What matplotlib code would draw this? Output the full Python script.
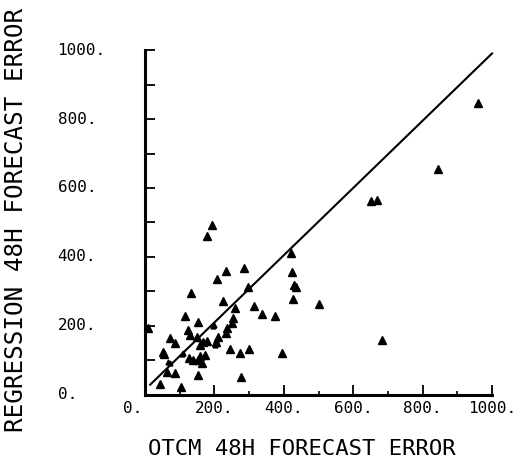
import numpy as np
from matplotlib import pyplot as plt

# OTCM vs regression 48h forecast errors
otcm = [192, 178, 421, 425, 430, 435, 427, 500, 650, 668, 845, 960, 682, 394,
        286, 233, 208, 298, 133, 226, 314, 336, 375, 259, 254, 250, 235, 233,
        115, 152, 125, 130, 149, 72, 86, 168, 178, 158, 53, 56, 128, 158, 173,
        245, 274, 300, 154, 163, 62, 86, 152, 278, 43, 104, 10, 139, 211, 206]
regr = [493, 461, 412, 356, 320, 312, 279, 264, 563, 565, 655, 846, 159, 121,
        369, 359, 336, 314, 297, 272, 259, 236, 229, 253, 222, 208, 193, 179,
        230, 212, 188, 174, 169, 164, 150, 155, 157, 145, 126, 120, 106, 113, 116,
        132, 123, 133, 100, 92, 68, 63, 58, 53, 32, 24, 195, 101, 167, 155]

# small marks in the dense cluster
otcm_small = [195, 206, 203, 106, 72, 199, 110, 67]
regr_small = [200, 159, 145, 119, 92, 203, 123, 97]

fit_x = [15, 1000]
fit_y = [30, 990]

xticks = [0, 200, 400, 600, 800, 1000]
yticks = [0, 200, 400, 600, 800, 1000]
tick_labels = ['0.', '200.', '400.', '600.', '800.', '1000.']

plt.rcParams['font.family'] = 'DejaVu Sans Mono'

fig = plt.figure(figsize=(5.22, 4.70), dpi=100)
ax = fig.add_axes([0.2778, 0.1596, 0.6648, 0.734])

ax.plot(fit_x, fit_y, color='black', lw=1.5, clip_on=False)
ax.plot(otcm, regr, '^', color='black', ms=6, clip_on=False)
ax.plot(otcm_small, regr_small, '^', color='black', ms=3.5, clip_on=False)

ax.set_xlim(0, 1000)
ax.set_ylim(0, 1000)
for s in ['top', 'right']:
    ax.spines[s].set_visible(False)
for s in ['left', 'bottom']:
    ax.spines[s].set_linewidth(2.2)

ax.set_xticks(xticks)
ax.set_xticks(np.arange(100, 1000, 200), minor=True)
ax.set_yticks(np.arange(0, 1001, 100))
ax.tick_params(axis='both', which='major', direction='in', length=7, width=1.3,
               labelbottom=False, labelleft=False)
ax.tick_params(axis='x', which='minor', direction='in', length=3, width=1.2)

for i, v in enumerate(xticks):
    dx = -9 if v == 0 else 0
    ax.annotate(tick_labels[i], (v, 0), xytext=(dx, -10), textcoords='offset points',
                ha='center', va='center', fontsize=11.5)
for i, v in enumerate(yticks):
    ax.annotate(tick_labels[i], (0, v), xytext=(-63, 0), textcoords='offset points',
                ha='left', va='center', fontsize=11.5)

fig.text(0.579, 0.045, 'OTCM 48H FORECAST ERROR', ha='center', va='center', fontsize=16)
fig.text(0.03, 0.532, 'REGRESSION 48H FORECAST ERROR', ha='center', va='center',
         rotation=90, fontsize=17.5)

plt.savefig('out.png', dpi=100)
